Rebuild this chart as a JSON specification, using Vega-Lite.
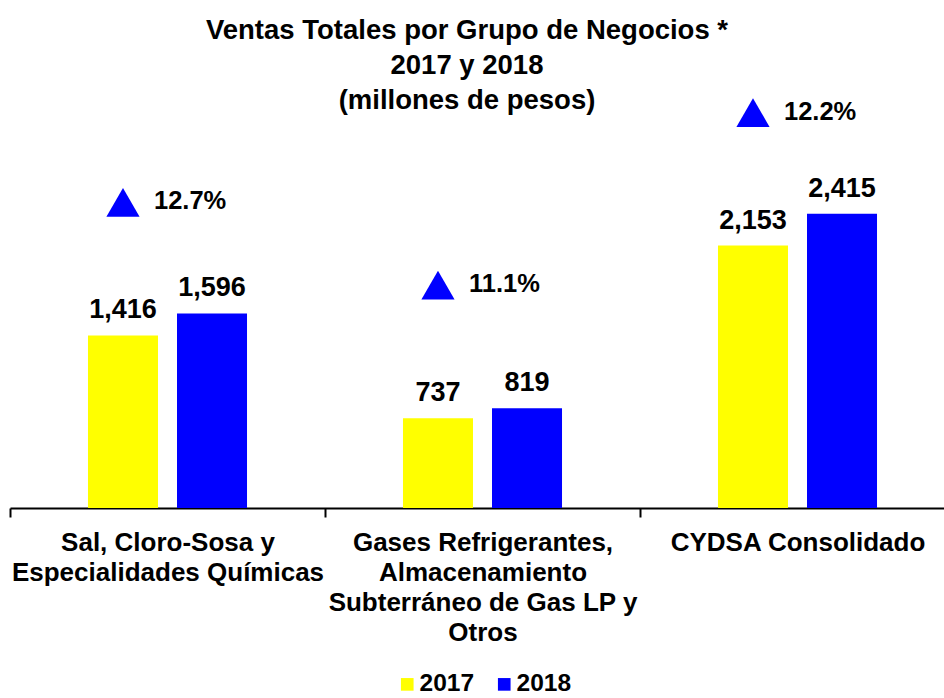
{
  "$schema": "https://vega.github.io/schema/vega-lite/v6.json",
  "width": 934,
  "height": 390,
  "autosize": {"type": "none"},
  "padding": {"left": 10, "top": 118, "right": 0, "bottom": 190},
  "background": "white",
  "title": {
    "text": ["Ventas Totales por Grupo de Negocios *", "2017 y 2018", "(millones de pesos)"],
    "font": "Liberation Sans",
    "fontSize": 27.5,
    "fontWeight": "bold",
    "lineHeight": 35,
    "color": "black",
    "anchor": "middle",
    "dx": -10,
    "offset": -16
  },
  "data": {
    "values": [
      {"grupo": "Sal, Cloro-Sosa y\nEspecialidades Químicas", "anio": "2017", "ventas": 1416, "crecimiento": 0.127},
      {"grupo": "Sal, Cloro-Sosa y\nEspecialidades Químicas", "anio": "2018", "ventas": 1596, "crecimiento": 0.127},
      {"grupo": "Gases Refrigerantes,\nAlmacenamiento\nSubterráneo de Gas LP y\nOtros", "anio": "2017", "ventas": 737, "crecimiento": 0.111},
      {"grupo": "Gases Refrigerantes,\nAlmacenamiento\nSubterráneo de Gas LP y\nOtros", "anio": "2018", "ventas": 819, "crecimiento": 0.111},
      {"grupo": "CYDSA Consolidado", "anio": "2017", "ventas": 2153, "crecimiento": 0.122},
      {"grupo": "CYDSA Consolidado", "anio": "2018", "ventas": 2415, "crecimiento": 0.122}
    ]
  },
  "encoding": {
    "x": {
      "field": "grupo",
      "type": "nominal",
      "sort": null,
      "scale": {"paddingInner": 0, "paddingOuter": 0, "range": [0, 945]},
      "axis": {
        "title": null,
        "domainColor": "black",
        "domainWidth": 2,
        "tickColor": "black",
        "tickWidth": 2,
        "tickSize": 9,
        "tickBand": "extent",
        "labelFont": "Liberation Sans",
        "labelFontSize": 26,
        "labelFontWeight": "bold",
        "labelColor": "black",
        "labelAngle": 0,
        "labelPadding": 12,
        "labelLineHeight": 30,
        "labelLimit": 400,
        "labelOverlap": false,
        "labelBaseline": "top",
        "labelExpr": "split(datum.label, '\\n')"
      }
    },
    "xOffset": {
      "field": "anio",
      "type": "nominal",
      "scale": {"paddingInner": 0.2135, "paddingOuter": 0.876}
    },
    "y": {
      "field": "ventas",
      "type": "quantitative",
      "scale": {"domain": [0, 3200], "nice": false, "zero": true},
      "axis": null
    }
  },
  "layer": [
    {
      "mark": {"type": "bar"},
      "encoding": {
        "color": {
          "field": "anio",
          "type": "nominal",
          "scale": {"domain": ["2017", "2018"], "range": ["#FFFF00", "#0000FF"]},
          "legend": {
            "title": null,
            "orient": "none",
            "legendX": 385,
            "legendY": 554,
            "direction": "horizontal",
            "symbolType": "square",
            "symbolSize": 160,
            "symbolStrokeWidth": 0,
            "symbolOpacity": 1,
            "labelFont": "Liberation Sans",
            "labelFontSize": 24.5,
            "labelFontWeight": "bold",
            "labelColor": "black",
            "labelOffset": 0,
            "columnPadding": 17,
            "padding": 0
          }
        }
      }
    },
    {
      "mark": {"type": "text", "dy": -17, "baseline": "alphabetic", "font": "Liberation Sans", "fontSize": 27, "fontWeight": "bold", "color": "black"},
      "encoding": {"text": {"field": "ventas", "type": "quantitative", "format": ","}}
    },
    {
      "transform": [{"filter": "datum.anio == '2017'"}],
      "mark": {"type": "point", "shape": "triangle-up", "filled": true, "size": 1100, "color": "#0000FF", "opacity": 1, "strokeWidth": 0, "yOffset": -133}
    },
    {
      "transform": [{"filter": "datum.anio == '2017'"}],
      "mark": {"type": "text", "align": "left", "baseline": "middle", "dx": 31, "dy": -134, "font": "Liberation Sans", "fontSize": 25.5, "fontWeight": "bold", "color": "black"},
      "encoding": {"text": {"field": "crecimiento", "type": "quantitative", "format": ".1%"}}
    }
  ],
  "config": {"view": {"stroke": null}, "font": "Liberation Sans"}
}
